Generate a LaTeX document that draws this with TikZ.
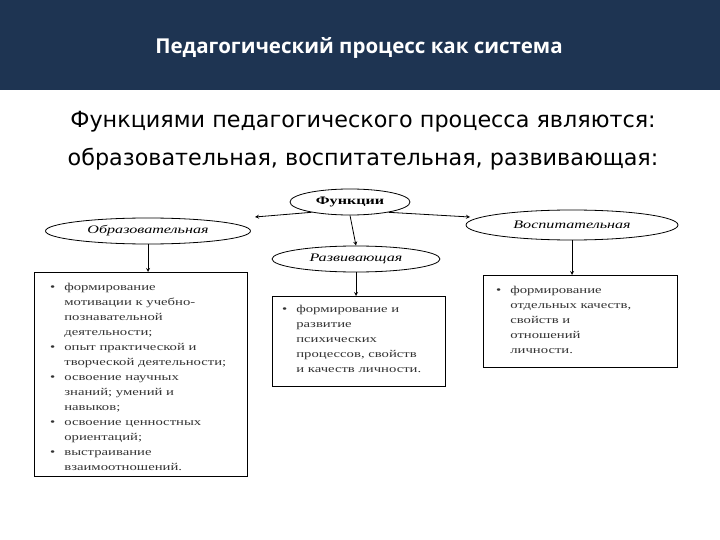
\documentclass[tikz,border=0pt]{standalone}
\usepackage{fontspec}
\setmainfont{Liberation Serif}
\newfontfamily\wideserif[FakeStretch=1.4]{Liberation Serif}
\newfontfamily\headfont{Open Sans}
\newfontfamily\bodyfont{DejaVu Sans}
\usepackage{tikz}
\usetikzlibrary{shapes.geometric}
\definecolor{navy}{HTML}{1E3452}
\definecolor{inkgray}{HTML}{333333}

\begin{document}
\begin{tikzpicture}[x=1pt, y=-1pt,
        oval/.style={ellipse, draw, thick, inner sep=0pt, font=\wideserif\itshape\fontsize{11.5}{13}\selectfont},
        listbox/.style={draw, thick, anchor=north west, inner sep=0pt},
        listtext/.style={anchor=north west, inner sep=0pt, text=inkgray, font=\wideserif\fontsize{10.5}{15}\selectfont},
        link/.style={->, >=stealth, thick}
    ]
    \useasboundingbox (0, 0) rectangle (720, 540);
    \fill[navy] (0, 0) rectangle (720, 90);
    \node[text=white, font=\headfont\bfseries\fontsize{20.5}{24}\selectfont] (title) at (359, 48) {Педагогический процесс как система};
    \node[font=\bodyfont\fontsize{22.3}{38}\selectfont, align=center] (intro) at (363, 141)
        {Функциями педагогического процесса являются:\\образовательная, воспитательная, развивающая:};

    \node[oval, minimum width=120, minimum height=26, font=\wideserif\bfseries\fontsize{11.5}{13}\selectfont] (func) at (350, 202) {Функции};
    \node[oval, minimum width=205, minimum height=26] (educ) at (148, 231) {Образовательная};
    \node[oval, minimum width=168, minimum height=26] (devel) at (356, 259) {Развивающая};
    \node[oval, minimum width=212, minimum height=30] (upbr) at (572, 225) {Воспитательная};

    \node[listbox, minimum width=213, minimum height=204] (educbox) at (34, 272) {};
    \node[listtext] (educlist) at (50, 280) {%
        \begin{tabular}{@{}l@{\hspace{9pt}}l@{}}
        \textbullet & формирование\\
         & мотивации к учебно-\\
         & познавательной\\
         & деятельности;\\
        \textbullet & опыт практической и\\
         & творческой деятельности;\\
        \textbullet & освоение научных\\
         & знаний; умений и\\
         & навыков;\\
        \textbullet & освоение ценностных\\
         & ориентаций;\\
        \textbullet & выстраивание\\
         & взаимоотношений.
        \end{tabular}};

    \node[listbox, minimum width=173, minimum height=90] (develbox) at (272, 296) {};
    \node[listtext] (devellist) at (282, 302) {%
        \begin{tabular}{@{}l@{\hspace{9pt}}l@{}}
        \textbullet & формирование и\\
         & развитие\\
         & психических\\
         & процессов, свойств\\
         & и качеств личности.
        \end{tabular}};

    \node[listtext] (upbrlist) at (496, 283) {%
        \begin{tabular}{@{}l@{\hspace{9pt}}l@{}}
        \textbullet & формирование\\
         & отдельных качеств,\\
         & свойств и\\
         & отношений\\
         & личности.
        \end{tabular}};
    \node[listbox, minimum width=194, minimum height=92] (upbrbox) at (483, 275) {};

    \draw[link] (func.195) -- (255, 217);
    \draw[link] (func.-15) -- (470, 217);
    \draw[link] (func.south) -- (devel.north);
    \draw[link] (educ.south) -- (educbox.north -| educ.south);
    \draw[link] (devel.south) -- (develbox.north -| devel.south);
    \draw[link] (upbr.south) -- (upbrbox.north -| upbr.south);
\end{tikzpicture}
\end{document}
